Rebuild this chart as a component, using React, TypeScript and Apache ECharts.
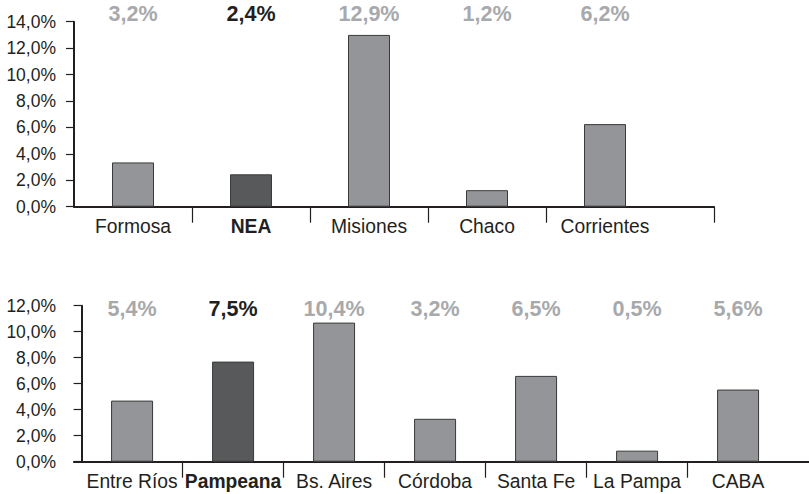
import React, { useEffect, useRef } from "react";
import * as echarts from "echarts";

const topCategories = ["Formosa", "NEA", "Misiones", "Chaco", "Corrientes"];
const topValues = [3.35, 2.45, 13.0, 1.25, 6.25];
const topLabels = ["3,2%", "2,4%", "12,9%", "1,2%", "6,2%"];
const topHighlight = [false, true, false, false, false];

const bottomCategories = ["Entre Ríos", "Pampeana", "Bs. Aires", "Córdoba", "Santa Fe", "La Pampa", "CABA"];
const bottomValues = [4.7, 7.7, 10.7, 3.3, 6.6, 0.85, 5.55];
const bottomLabels = ["5,4%", "7,5%", "10,4%", "3,2%", "6,5%", "0,5%", "5,6%"];
const bottomHighlight = [false, true, false, false, false, false, false];

const FONT = "'Liberation Sans', Arial, sans-serif";
const DARK = "#231f20";
const LIGHT_BAR = "#939598";
const DARK_BAR = "#58595b";
const LIGHT_TEXT = "#a7a9ac";

const pct = (v: number) => v.toFixed(1).replace(".", ",") + "%";

export default function App() {
  const ref = useRef<HTMLDivElement>(null);
  useEffect(() => {
    if (!ref.current) return;
    const chart = echarts.init(ref.current, undefined, { renderer: "svg" });

    const topMin = 0;
    const topMax = 640 / 118;
    const botMin = -0.075;
    const botMax = botMin + 735 / 101;

    const catPos = (n: number) => Array.from({ length: n }, (_, i) => i + 0.5);
    const idx = (v: number) => Math.floor(v);

    const catAxis = (grid: number, min: number, max: number, cats: string[], hl: boolean[], ticks: number[]) => ({
      type: "value",
      gridIndex: grid,
      position: "bottom",
      min,
      max,
      splitLine: { show: false },
      axisLine: { show: true, onZero: true, lineStyle: { color: DARK, width: 2 } },
      axisTick: { show: true, customValues: ticks, length: 16, lineStyle: { color: DARK, width: 1.2 } },
      axisLabel: {
        customValues: catPos(cats.length),
        margin: 10.5,
        showMinLabel: true,
        showMaxLabel: true,
        hideOverlap: false,
        formatter: (v: number) => {
          const i = idx(v);
          return (hl[i] ? "{b|" : "{n|") + cats[i] + "}";
        },
        rich: {
          n: { fontFamily: FONT, fontSize: 19.3, lineHeight: 19.3, color: DARK },
          b: { fontFamily: FONT, fontSize: 19.3, lineHeight: 19.3, color: DARK, fontWeight: "bold" },
        },
      },
    });

    const lblAxis = (grid: number, min: number, max: number, labels: string[], hl: boolean[], margin: number) => ({
      type: "value",
      gridIndex: grid,
      position: "top",
      min,
      max,
      splitLine: { show: false },
      axisLine: { show: false },
      axisTick: { show: false },
      axisLabel: {
        customValues: catPos(labels.length),
        margin,
        showMinLabel: true,
        showMaxLabel: true,
        hideOverlap: false,
        formatter: (v: number) => {
          const i = idx(v);
          return (hl[i] ? "{d|" : "{g|") + labels[i] + "}";
        },
        rich: {
          g: { fontFamily: FONT, fontSize: 21.5, lineHeight: 21.5, color: LIGHT_TEXT, fontWeight: "bold" },
          d: { fontFamily: FONT, fontSize: 21.5, lineHeight: 21.5, color: DARK, fontWeight: "bold" },
        },
      },
    });

    const yAxis = (grid: number, max: number) => ({
      type: "value",
      gridIndex: grid,
      min: 0,
      max,
      interval: 2,
      splitLine: { show: false },
      axisLine: { show: true, lineStyle: { color: DARK, width: 2 } },
      axisTick: { show: true, length: 8, lineStyle: { color: DARK, width: 1.2 } },
      axisLabel: {
        margin: 18,
        fontFamily: FONT,
        fontSize: 17.5,
        lineHeight: 17.5,
        padding: [3, 0, 0, 0],
        color: DARK,
        formatter: (v: number) => pct(v),
      },
    });

    const barData = (vals: number[], hl: boolean[]) =>
      vals.map((v, i) => ({
        value: [i + 0.5, v],
        itemStyle: { color: hl[i] ? DARK_BAR : LIGHT_BAR },
      }));

    chart.setOption({
      animation: false,
      backgroundColor: "#ffffff",
      grid: [
        { left: 74, top: 21.7, width: 640, height: 185, containLabel: false },
        { left: 74, top: 305.7, width: 735, height: 156, containLabel: false },
      ],
      xAxis: [
        catAxis(0, topMin, topMax, topCategories, topHighlight, [1, 2, 3, 4, topMax]),
        lblAxis(0, topMin, topMax, topLabels, topHighlight, -3),
        catAxis(1, botMin, botMax, bottomCategories, bottomHighlight, [1, 2, 3, 4, 5, 6]),
        lblAxis(1, botMin, botMax, bottomLabels, bottomHighlight, -14.5),
      ],
      yAxis: [yAxis(0, 14), yAxis(1, 12)],
      series: [
        {
          type: "bar",
          xAxisIndex: 0,
          yAxisIndex: 0,
          barWidth: 42,
          data: barData(topValues, topHighlight),
          itemStyle: { borderColor: "#3a3a3a", borderWidth: 1 },
        },
        {
          type: "bar",
          xAxisIndex: 2,
          yAxisIndex: 1,
          barWidth: 42,
          data: barData(bottomValues, bottomHighlight),
          itemStyle: { borderColor: "#3a3a3a", borderWidth: 1 },
        },
      ],
    });

    return () => chart.dispose();
  }, []);

  return (
    <div
      ref={ref}
      style={{ position: "fixed", left: 0, top: 0, width: 809, height: 494, background: "#fff" }}
    />
  );
}
